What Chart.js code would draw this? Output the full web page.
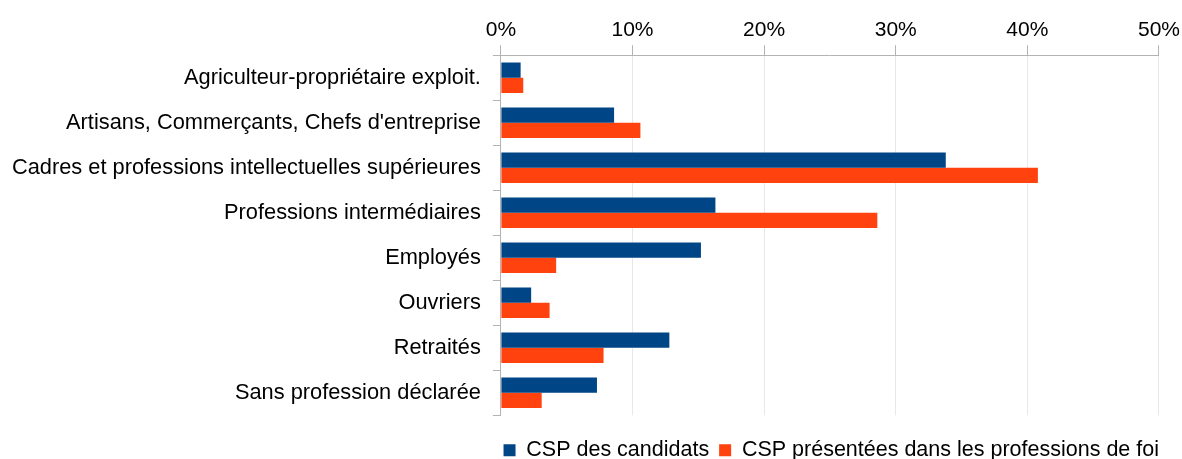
<!DOCTYPE html>
<html>
<head>
<meta charset="utf-8">
<script src="https://cdn.jsdelivr.net/npm/chart.js@4"></script>
<style>
  html, body { margin: 0; padding: 0; background: #fff; }
  #wrap { width: 1182px; height: 459px; }
</style>
</head>
<body>
<div id="wrap"><canvas id="cspChart"></canvas></div>
<script>
// categories (socio-professional groups)
const categories = [
    'Agriculteur-propriétaire exploit.',
    'Artisans, Commerçants, Chefs d\'entreprise',
    'Cadres et professions intellectuelles supérieures',
    'Professions intermédiaires',
    'Employés',
    'Ouvriers',
    'Retraités',
    'Sans profession déclarée'
];

// values in percent
const candidats = [1.5, 8.6, 33.8, 16.3, 15.2, 2.3, 12.8, 7.3];
const professionsDeFoi = [1.7, 10.6, 40.8, 28.6, 4.2, 3.7, 7.8, 3.1];

const seriesLabels = ['CSP des candidats', 'CSP présentées dans les professions de foi'];
const xTicks = [0, 10, 20, 30, 40, 50];

Chart.defaults.font.family = '"Liberation Sans", Arial, sans-serif';
Chart.defaults.color = '#000';

// pull the legend in so it ends under the right edge of the plot
const legendShift = {
    id: 'legendShift',
    afterLayout(chart) {
        chart.legend.right = chart.chartArea.right + 10;
    }
};

const ctx = document.getElementById('cspChart').getContext('2d');
let myChart = new Chart(ctx, {
    type: 'bar',
    data: {
        labels: categories,
        datasets: [{
            label: seriesLabels[0],
            data: candidats,
            backgroundColor: '#004586',
            borderWidth: 0
        }, {
            label: seriesLabels[1],
            data: professionsDeFoi,
            backgroundColor: '#ff420e',
            borderWidth: 0
        }]
    },
    plugins: [legendShift],
    options: {
        indexAxis: 'y',
        responsive: true,
        maintainAspectRatio: false,
        animation: false,
        datasets: {
            bar: { categoryPercentage: 0.68, barPercentage: 1.0 }
        },
        layout: {
            padding: { left: 0, right: -2, top: 16, bottom: -12 }
        },
        scales: {
            x: {
                position: 'top',
                min: 0,
                max: 50,
                afterBuildTicks: axis => { axis.ticks = xTicks.map(v => ({ value: v })); },
                ticks: {
                    callback: v => v + '%',
                    font: { size: 21 },
                    padding: 2
                },
                grid: {
                    color: '#e8e8e8',
                    tickColor: '#b3b3b3',
                    tickLength: 10,
                    lineWidth: 1
                },
                border: { color: '#b3b3b3', width: 1 }
            },
            y: {
                ticks: {
                    font: { size: 21.8 },
                    padding: 12
                },
                grid: {
                    drawOnChartArea: false,
                    tickColor: '#b3b3b3',
                    tickLength: 8,
                    offset: true
                },
                border: { color: '#b3b3b3', width: 1 }
            }
        },
        plugins: {
            legend: {
                position: 'bottom',
                align: 'end',
                title: {
                    display: true,
                    text: ' ',
                    font: { size: 1 },
                    padding: { top: 0, bottom: 13 }
                },
                labels: {
                    boxWidth: 12,
                    boxHeight: 12,
                    padding: 10,
                    font: { size: 21.5 }
                }
            },
            tooltip: { enabled: false }
        }
    }
});
</script>
</body>
</html>
